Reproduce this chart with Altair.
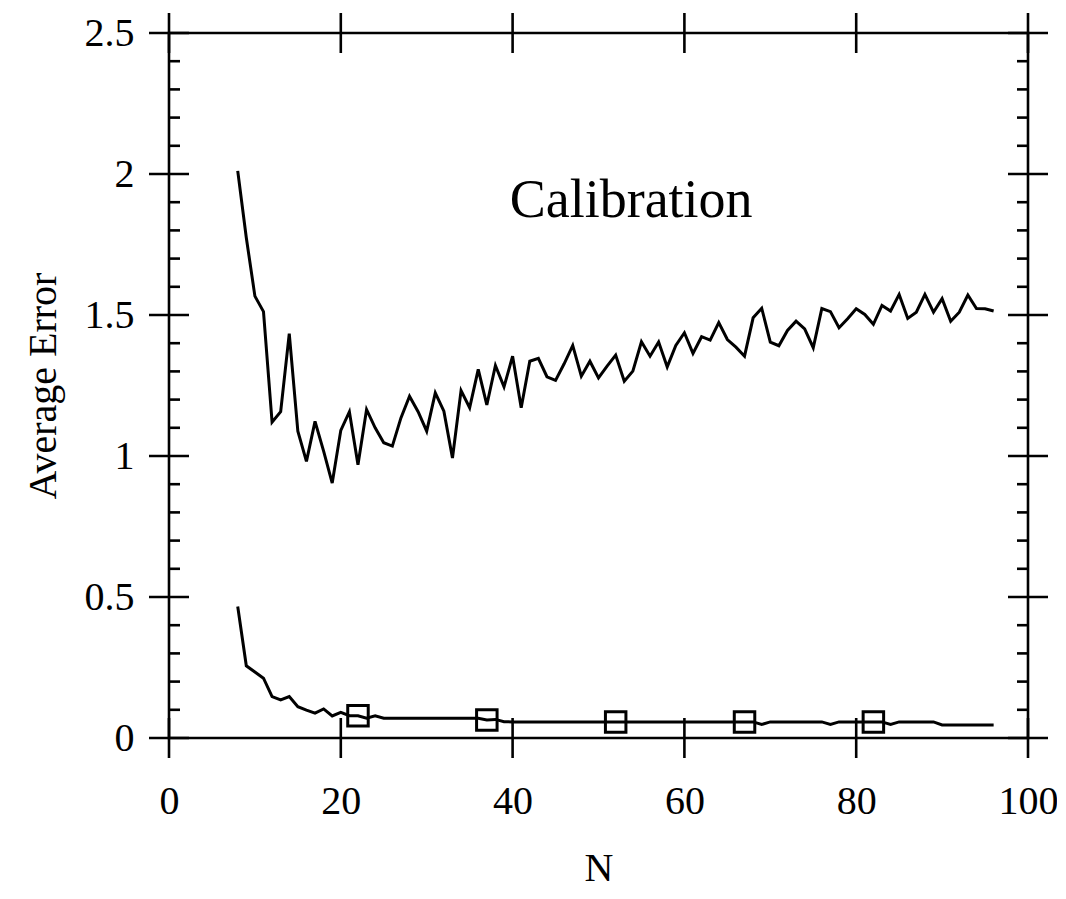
import altair as alt
import pandas as pd

# ---- data ----
n_values = list(range(8, 97))
upper = [2.011, 1.774, 1.567, 1.512, 1.120, 1.157, 1.434, 1.088, 0.981, 1.123,
         1.017, 0.904, 1.091, 1.157, 0.969, 1.165, 1.100, 1.047, 1.035, 1.135,
         1.212, 1.157, 1.088, 1.224, 1.159, 0.993, 1.232, 1.171, 1.307, 1.181,
         1.321, 1.245, 1.354, 1.171, 1.336, 1.346, 1.281, 1.268, 1.327, 1.392,
         1.283, 1.336, 1.277, 1.319, 1.358, 1.265, 1.301, 1.405, 1.354, 1.404,
         1.316, 1.392, 1.437, 1.364, 1.423, 1.411, 1.473, 1.413, 1.386, 1.354,
         1.490, 1.524, 1.404, 1.391, 1.445, 1.478, 1.451, 1.384, 1.523, 1.512,
         1.455, 1.487, 1.522, 1.502, 1.467, 1.534, 1.514, 1.573, 1.488, 1.510,
         1.573, 1.510, 1.558, 1.478, 1.510, 1.571, 1.523, 1.522, 1.514]
lower = [0.466, 0.256, 0.234, 0.212, 0.147, 0.135, 0.147, 0.111, 0.099, 0.088,
         0.103, 0.078, 0.091, 0.079, 0.079, 0.070, 0.079, 0.070, 0.070, 0.070,
         0.070, 0.070, 0.070, 0.070, 0.070, 0.070, 0.070, 0.070, 0.070, 0.064,
         0.066, 0.058, 0.057, 0.057, 0.057, 0.057, 0.057, 0.057, 0.057, 0.057,
         0.057, 0.057, 0.057, 0.057, 0.057, 0.057, 0.057, 0.057, 0.057, 0.057,
         0.057, 0.057, 0.057, 0.057, 0.057, 0.057, 0.057, 0.057, 0.057, 0.057,
         0.057, 0.048, 0.057, 0.057, 0.057, 0.057, 0.057, 0.057, 0.057, 0.048,
         0.057, 0.057, 0.057, 0.057, 0.057, 0.057, 0.048, 0.057, 0.057, 0.057,
         0.057, 0.057, 0.046, 0.046, 0.046, 0.046, 0.046, 0.046, 0.046]
marker_n = [22, 37, 52, 67, 82]

x_major = [0, 20, 40, 60, 80, 100]
y_major = [0, 0.5, 1, 1.5, 2, 2.5]
y_minor = [0.1, 0.2, 0.3, 0.4, 0.6, 0.7, 0.8, 0.9, 1.1, 1.2, 1.3, 1.4,
           1.6, 1.7, 1.8, 1.9, 2.1, 2.2, 2.3, 2.4]

annotation = ["Calibration"]
annotation_x = [53.8]
annotation_y = [1.847]

W, H = 859, 705
FONT = "Liberation Serif"

df = pd.DataFrame({
    "N": n_values * 2,
    "err": upper + lower,
    "series": ["upper"] * len(n_values) + ["lower"] * len(n_values),
})
mk = pd.DataFrame({"N": marker_n,
                   "err": [lower[n_values.index(n)] for n in marker_n]})
xm = pd.DataFrame({"v": x_major})
ym = pd.DataFrame({"v": y_major})
yn = pd.DataFrame({"v": y_minor})
ann = pd.DataFrame({"t": annotation, "x": annotation_x, "y": annotation_y})

xs = alt.Scale(domain=[0, 100], nice=False, zero=False)
ys = alt.Scale(domain=[0, 2.5], nice=False, zero=False)

xaxis = alt.Axis(values=x_major, title="N", ticks=False, tickSize=0, domain=False,
                 grid=False, labelFont=FONT, labelFontSize=40, labelColor="black",
                 labelPadding=75, labelBaseline="alphabetic", labelFlush=False,
                 format="d",
                 titleFont=FONT, titleFontSize=40, titleFontWeight="normal",
                 titleColor="black", titleY=142, titleBaseline="alphabetic")
yaxis = alt.Axis(values=y_major, title="Average Error", ticks=False, tickSize=0,
                 domain=False, grid=False, labelFont=FONT, labelFontSize=40,
                 labelColor="black", labelPadding=35, labelFlush=False,
                 format="~g",
                 titleFont=FONT, titleFontSize=40, titleFontWeight="normal",
                 titleColor="black", titleX=-114, titleY=H / 2,
                 titleBaseline="alphabetic", titleAngle=-90, titleAlign="center")

lines = alt.Chart(df).mark_line(color="black", strokeWidth=3).encode(
    x=alt.X("N:Q", scale=xs, axis=xaxis),
    y=alt.Y("err:Q", scale=ys, axis=yaxis),
    detail="series:N",
)
markers = alt.Chart(mk).mark_point(shape="square", size=420, filled=False,
                                   color="black", strokeWidth=3, opacity=1).encode(
    x=alt.X("N:Q", scale=xs), y=alt.Y("err:Q", scale=ys))

rule = dict(color="black", strokeWidth=2.6)
ymaj_l = alt.Chart(ym).mark_rule(**rule).encode(
    y=alt.Y("v:Q", scale=ys), x=alt.value(-20), x2=alt.value(20))
ymaj_r = alt.Chart(ym).mark_rule(**rule).encode(
    y=alt.Y("v:Q", scale=ys), x=alt.value(W - 20), x2=alt.value(W + 20))
ymin_l = alt.Chart(yn).mark_rule(**rule).encode(
    y=alt.Y("v:Q", scale=ys), x=alt.value(0), x2=alt.value(11))
ymin_r = alt.Chart(yn).mark_rule(**rule).encode(
    y=alt.Y("v:Q", scale=ys), x=alt.value(W - 11), x2=alt.value(W))
xmaj_b = alt.Chart(xm).mark_rule(**rule).encode(
    x=alt.X("v:Q", scale=xs), y=alt.value(H - 20), y2=alt.value(H + 20))
xmaj_t = alt.Chart(xm).mark_rule(**rule).encode(
    x=alt.X("v:Q", scale=xs), y=alt.value(-20), y2=alt.value(20))

label = alt.Chart(ann).mark_text(font=FONT, fontSize=54, color="black",
                                 align="center", baseline="alphabetic").encode(
    x=alt.X("x:Q", scale=xs), y=alt.Y("y:Q", scale=ys), text="t:N")

chart = alt.layer(lines, markers, ymaj_l, ymaj_r, ymin_l, ymin_r, xmaj_b, xmaj_t,
                  label).properties(
    width=W, height=H,
    autosize=alt.AutoSizeParams(type="none"),
    padding={"left": 161, "top": 25, "right": 29, "bottom": 150},
    background="white",
).configure_view(stroke="black", strokeWidth=2.6)

chart.save("out.html", embed_options={"renderer": "svg", "actions": False})
